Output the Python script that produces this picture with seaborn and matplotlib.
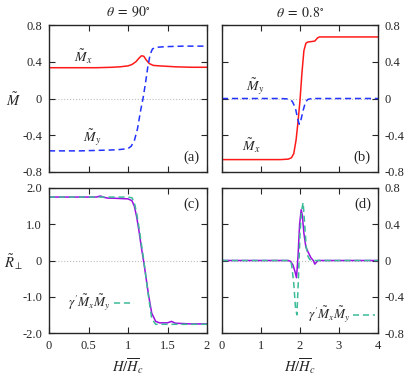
import matplotlib
matplotlib.use("Agg")
import matplotlib.pyplot as plt
import seaborn as sns

# panel (a): theta = 90 deg
a_mx_h = [0, 0.2, 0.4, 0.6, 0.8, 0.9, 1.0, 1.05, 1.1, 1.14, 1.17, 1.2, 1.23, 1.27, 1.32, 1.4, 1.5, 1.6, 1.8, 2.0]
a_mx = [0.335, 0.335, 0.335, 0.335, 0.34, 0.345, 0.355, 0.37, 0.40, 0.44, 0.465, 0.46, 0.42, 0.38, 0.36, 0.355, 0.35, 0.345, 0.34, 0.34]
a_my_h = [0, 0.2, 0.4, 0.6, 0.8, 0.9, 1.0, 1.04, 1.08, 1.12, 1.16, 1.19, 1.22, 1.25, 1.28, 1.31, 1.35, 1.4, 1.5, 1.7, 2.0]
a_my = [-0.57, -0.57, -0.57, -0.565, -0.56, -0.555, -0.545, -0.52, -0.46, -0.33, -0.13, 0.0, 0.16, 0.34, 0.48, 0.54, 0.555, 0.56, 0.565, 0.57, 0.57]

# panel (b): theta = 0.8 deg
b_mx_h = [0, 0.5, 1.0, 1.5, 1.7, 1.78, 1.84, 1.9, 1.95, 2.0, 2.05, 2.1, 2.15, 2.2, 2.3, 2.38, 2.45, 2.5, 3, 3.5, 4]
b_mx = [-0.665, -0.665, -0.665, -0.665, -0.66, -0.645, -0.6, -0.45, -0.25, -0.02, 0.28, 0.52, 0.6, 0.615, 0.62, 0.625, 0.66, 0.67, 0.67, 0.67, 0.67]
b_my_h = [0, 1, 1.5, 1.7, 1.8, 1.88, 1.94, 1.98, 2.02, 2.08, 2.14, 2.2, 2.3, 3, 4]
b_my = [0, 0, 0, -0.005, -0.03, -0.1, -0.22, -0.28, -0.24, -0.13, -0.04, -0.01, 0, 0, 0]

# panel (c): R_perp, theta = 90 deg
c_r_h = [0, 0.3, 0.6, 0.65, 0.7, 0.75, 0.8, 0.9, 1.0, 1.05, 1.08, 1.11, 1.14, 1.17, 1.2, 1.23, 1.26, 1.3, 1.35, 1.4, 1.5, 1.55, 1.6, 1.7, 1.8, 2.0]
c_r = [1.75, 1.75, 1.75, 1.78, 1.74, 1.72, 1.72, 1.71, 1.70, 1.65, 1.5, 1.2, 0.8, 0.35, -0.05, -0.5, -0.95, -1.45, -1.68, -1.72, -1.72, -1.68, -1.73, -1.74, -1.75, -1.75]
c_g_h = [0, 0.5, 1.0, 1.05, 1.08, 1.11, 1.14, 1.17, 1.2, 1.23, 1.26, 1.3, 1.35, 1.5, 2.0]
c_g = [1.75, 1.75, 1.75, 1.73, 1.6, 1.3, 0.9, 0.45, 0.0, -0.5, -1.0, -1.6, -1.76, -1.76, -1.76]

# panel (d): R_perp, theta = 0.8 deg
d_r_h = [0, 1, 1.5, 1.7, 1.76, 1.82, 1.87, 1.91, 1.95, 1.99, 2.03, 2.06, 2.1, 2.15, 2.2, 2.28, 2.34, 2.38, 2.42, 2.46, 2.6, 3, 4]
d_r = [0, 0, 0, 0, -0.01, -0.05, -0.12, -0.19, 0.05, 0.4, 0.56, 0.5, 0.3, 0.15, 0.1, 0.03, 0.0, -0.04, -0.02, 0.0, 0, 0, 0]
d_g_h = [0, 1, 1.5, 1.7, 1.78, 1.84, 1.88, 1.92, 1.96, 2.0, 2.04, 2.08, 2.12, 2.16, 2.2, 2.25, 2.3, 3, 4]
d_g = [0, 0, 0, 0, -0.03, -0.25, -0.5, -0.6, -0.2, 0.3, 0.55, 0.64, 0.4, 0.15, 0.05, 0.01, 0, 0, 0]

RED = "#ff1a1a"
BLUE = "#2233ff"
PURPLE = "#9a10e0"
TEAL = "#3dbb98"
DASH = (0, (4, 2.5))

sns.set_style("ticks")
plt.rcParams["font.family"] = ["Liberation Serif", "DejaVu Serif"]
plt.rcParams["mathtext.fontset"] = "stix"
plt.rcParams["font.size"] = 9

fig = plt.figure(figsize=(4.15, 3.77), dpi=100)
W, H = 415.0, 377.0


def box(l, t, r, b):
    return [l / W, 1 - b / H, (r - l) / W, (b - t) / H]


ax_a = fig.add_axes(box(49, 25, 207, 172))
ax_b = fig.add_axes(box(222, 25, 378, 172))
ax_c = fig.add_axes(box(49, 188, 207, 333))
ax_d = fig.add_axes(box(222, 188, 378, 333))

for ax in (ax_a, ax_b, ax_c, ax_d):
    ax.axhline(0, color="0.75", ls=":", lw=0.8, zorder=0)
    ax.tick_params(direction="in", top=True, right=True, length=4, width=0.8, labelsize=9, pad=5)
    for s in ax.spines.values():
        s.set_linewidth(1.0)

lw = 1.1
sns.lineplot(x=a_mx_h, y=a_mx, ax=ax_a, color=RED, lw=lw, estimator=None, sort=False)
sns.lineplot(x=a_my_h, y=a_my, ax=ax_a, color=BLUE, lw=lw, ls=DASH, estimator=None, sort=False)
sns.lineplot(x=b_mx_h, y=b_mx, ax=ax_b, color=RED, lw=lw, estimator=None, sort=False)
sns.lineplot(x=b_my_h, y=b_my, ax=ax_b, color=BLUE, lw=lw, ls=DASH, estimator=None, sort=False)
sns.lineplot(x=c_r_h, y=c_r, ax=ax_c, color=PURPLE, lw=lw, estimator=None, sort=False)
sns.lineplot(x=c_g_h, y=c_g, ax=ax_c, color=TEAL, lw=lw, ls=DASH, estimator=None, sort=False)
sns.lineplot(x=d_r_h, y=d_r, ax=ax_d, color=PURPLE, lw=lw, estimator=None, sort=False)
sns.lineplot(x=d_g_h, y=d_g, ax=ax_d, color=TEAL, lw=lw, ls=DASH, estimator=None, sort=False)

# axes ranges and ticks
m_ticks = [-0.8, -0.4, 0, 0.4, 0.8]
m_labels = ["-0.8", "-0.4", "0", "0.4", "0.8"]
for ax in (ax_a, ax_b, ax_d):
    ax.set_ylim(-0.8, 0.8)
    ax.set_yticks(m_ticks)
    ax.set_yticklabels(m_labels)
ax_c.set_ylim(-2, 2)
ax_c.set_yticks([-2, -1, 0, 1, 2])
ax_c.set_yticklabels(["-2.0", "-1.0", "0", "1.0", "2.0"])

for ax in (ax_a, ax_c):
    ax.set_xlim(0, 2)
    ax.set_xticks([0, 0.5, 1, 1.5, 2])
for ax in (ax_b, ax_d):
    ax.set_xlim(0, 4)
    ax.set_xticks([0, 1, 2, 3, 4])
    ax.yaxis.tick_right()
    ax.tick_params(left=True, right=True, labelleft=False, labelright=True)
ax_a.set_xticklabels([])
ax_b.set_xticklabels([])
ax_c.set_xticklabels(["0", "0.5", "1", "1.5", "2"])
ax_d.set_xticklabels(["0", "1", "2", "3", "4"])

for ax in (ax_a, ax_b, ax_c, ax_d):
    ax.set_xlabel("")
    ax.set_ylabel("")

ax_c.set_xlabel(r"$H/\overline{H}_c$", fontsize=10.5, labelpad=3)
ax_d.set_xlabel(r"$H/\overline{H}_c$", fontsize=10.5, labelpad=3)
fig.text(14 / W, 1 - 100 / H, r"$\tilde{M}$", fontsize=10.5, ha="center", va="center")
fig.text(14 / W, 1 - 262 / H, r"$\tilde{R}_{\perp}$", fontsize=10.5, ha="center", va="center")
ax_a.set_title(r"$\theta\;=\;90^{\circ}$", fontsize=10, pad=6)
ax_b.set_title(r"$\theta\;=\;0.8^{\circ}$", fontsize=10, pad=6)

# in-plot annotations
ax_a.text(0.43, 0.45, r"$\tilde{M}_x$", fontsize=10, ha="center", va="center")
ax_a.text(0.54, -0.43, r"$\tilde{M}_y$", fontsize=10, ha="center", va="center")
ax_b.text(0.85, 0.13, r"$\tilde{M}_y$", fontsize=10, ha="center", va="center")
ax_b.text(0.76, -0.52, r"$\tilde{M}_x$", fontsize=10, ha="center", va="center")

ax_a.text(0.955, 0.1, "(a)", transform=ax_a.transAxes, fontsize=10.5, ha="right", va="center")
ax_b.text(0.955, 0.1, "(b)", transform=ax_b.transAxes, fontsize=10.5, ha="right", va="center")
ax_c.text(0.955, 0.885, "(c)", transform=ax_c.transAxes, fontsize=10.5, ha="right", va="center")
ax_d.text(0.955, 0.885, "(d)", transform=ax_d.transAxes, fontsize=10.5, ha="right", va="center")

# legend-like keys for the gamma' Mx My curve
ax_c.text(0.78, -1.17, r"$\gamma^{\prime}\tilde{M}_x\tilde{M}_y$", fontsize=9.5, ha="right", va="center")
sns.lineplot(x=[0.82, 1.07], y=[-1.17, -1.17], ax=ax_c, color=TEAL, lw=lw, ls=DASH, estimator=None)
ax_d.text(3.3, -0.6, r"$\gamma^{\prime}\tilde{M}_x\tilde{M}_y$", fontsize=9.5, ha="right", va="center")
sns.lineplot(x=[3.36, 3.92], y=[-0.6, -0.6], ax=ax_d, color=TEAL, lw=lw, ls=DASH, estimator=None)

fig.savefig("out.png", dpi=100)
